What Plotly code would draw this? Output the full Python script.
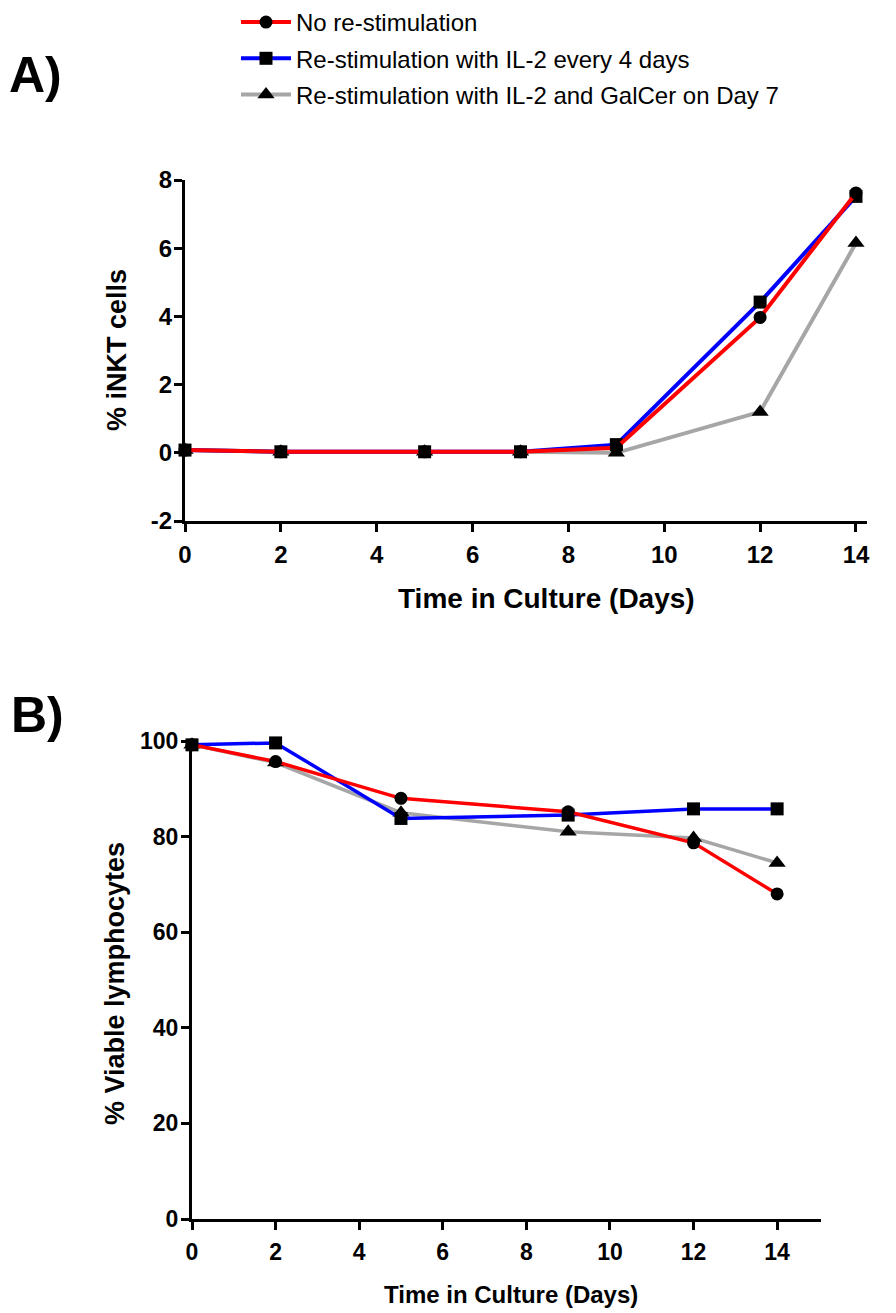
import plotly.graph_objects as go

# ---------------- data ----------------
days_a = [0, 2, 5, 7, 9, 12, 14]
no_restim_a = [0.08, 0.03, 0.03, 0.03, 0.15, 3.97, 7.62]
il2_a = [0.08, 0.03, 0.03, 0.03, 0.24, 4.42, 7.52]
galcer_a = [0.08, 0.03, 0.03, 0.03, 0.0, 1.2, 6.15]

days_b = [0, 2, 5, 9, 12, 14]
no_restim_b = [99.2, 95.7, 88.0, 85.2, 78.7, 68.0]
il2_b = [99.2, 99.6, 83.8, 84.5, 85.8, 85.8]
galcer_b = [99.2, 95.5, 85.0, 81.0, 79.7, 74.5]

series_names = ["No re-stimulation",
                "Re-stimulation with IL-2 every 4 days",
                "Re-stimulation with IL-2 and GalCer on Day 7"]
line_colors = ["#FF0000", "#0000FF", "#A6A6A6"]
symbols = ["circle", "square", "triangle-up"]

x_ticks = [0, 2, 4, 6, 8, 10, 12, 14]
y_ticks_a = [-2, 0, 2, 4, 6, 8]
y_ticktext_a = ["-2", "0", "2", "4", "6", "8"]
y_ticks_b = [0, 20, 40, 60, 80, 100]

W, H = 896, 1313
FONT = "Liberation Sans, Arial, sans-serif"


def px_x(p):
    return p / W


def px_y(p):
    return 1 - p / H


fig = go.Figure()

data_a = [no_restim_a, il2_a, galcer_a]
data_b = [no_restim_b, il2_b, galcer_b]
draw_order = [2, 1, 0]  # gray below blue below red

for i in draw_order:
    fig.add_trace(go.Scatter(
        x=days_a, y=data_a[i], name=series_names[i], mode="lines+markers",
        line=dict(color=line_colors[i], width=4),
        marker=dict(color="black", symbol=symbols[i],
                    size=15 if symbols[i] == "triangle-up" else 13, line=dict(width=0)),
        xaxis="x", yaxis="y", cliponaxis=False, legendrank=i + 1,
        legendgroup=f"g{i}", showlegend=True))

for i in draw_order:
    fig.add_trace(go.Scatter(
        x=days_b, y=data_b[i], name=series_names[i], mode="lines+markers",
        line=dict(color=line_colors[i], width=3.5),
        marker=dict(color="black", symbol=symbols[i],
                    size=15 if symbols[i] == "triangle-up" else 13, line=dict(width=0)),
        xaxis="x2", yaxis="y2", cliponaxis=False, legendrank=i + 1,
        legendgroup=f"g{i}", showlegend=False))

axis_common = dict(showgrid=False, zeroline=False, showline=True, linecolor="black",
                   linewidth=3, ticks="outside", ticklen=8, tickwidth=3,
                   tickcolor="black", mirror=False, automargin=False, layer="below traces")

fig.update_layout(
    width=W, height=H,
    margin=dict(l=0, r=0, t=0, b=0, autoexpand=False),
    paper_bgcolor="white", plot_bgcolor="rgba(0,0,0,0)",
    font=dict(family=FONT, color="black"),
    xaxis=dict(domain=[px_x(185), px_x(867)], range=[0, 14.23], anchor="y",
               tickvals=x_ticks, ticklabelstandoff=2,
               tickfont=dict(size=24, family=FONT, weight="bold"), **axis_common),
    yaxis=dict(domain=[px_y(521), px_y(180)], range=[-2, 8], anchor="x",
               tickvals=y_ticks_a, ticktext=y_ticktext_a, ticklabelstandoff=-3,
               tickfont=dict(size=24, family=FONT, weight="bold"), **axis_common),
    xaxis2=dict(domain=[px_x(192), px_x(821)], range=[0, 15.05], anchor="y2",
                tickvals=x_ticks, ticklabelstandoff=2,
                tickfont=dict(size=23, family=FONT, weight="bold"), **axis_common),
    yaxis2=dict(domain=[px_y(1219), px_y(741)], range=[0, 100], anchor="x2",
                tickvals=y_ticks_b, ticklabelstandoff=-2,
                tickfont=dict(size=23, family=FONT, weight="bold"), **axis_common),
    legend=dict(x=px_x(236), y=1, xanchor="left", yanchor="top",
                xref="container", yref="container",
                traceorder="grouped", tracegroupgap=2, itemwidth=50,
                font=dict(size=24, family=FONT, color="black"),
                bgcolor="rgba(0,0,0,0)", borderwidth=0),
)

annotations = [
    dict(text="<b>A)</b>", x=px_x(35), y=px_y(75), font=dict(size=50)),
    dict(text="<b>B)</b>", x=px_x(37), y=px_y(715), font=dict(size=50)),
    dict(text="<b>Time in Culture (Days)</b>", x=px_x(546), y=px_y(598), font=dict(size=28)),
    dict(text="<b>% iNKT cells</b>", x=px_x(117), y=px_y(350), font=dict(size=27), textangle=-90),
    dict(text="<b>Time in Culture (Days)</b>", x=px_x(511), y=px_y(1294), font=dict(size=24)),
    dict(text="<b>% Viable lymphocytes</b>", x=px_x(115), y=px_y(983), font=dict(size=27), textangle=-90),
]
for a in annotations:
    fig.add_annotation(xref="paper", yref="paper", showarrow=False,
                       xanchor="center", yanchor="middle",
                       font=dict(family=FONT, color="black", size=a["font"]["size"]),
                       **{k: v for k, v in a.items() if k != "font"})

fig.write_html("out.html")
